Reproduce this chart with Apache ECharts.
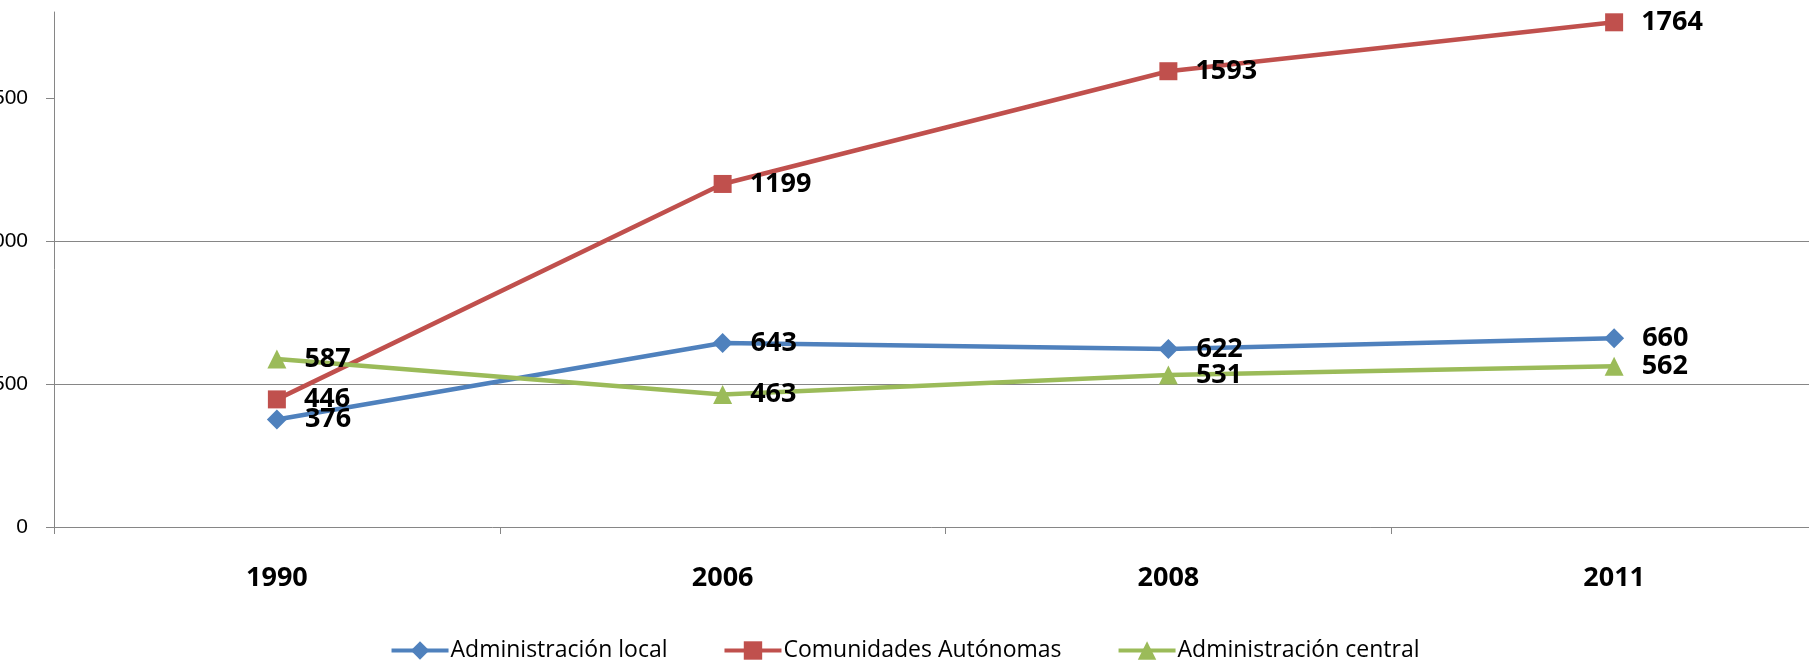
<!DOCTYPE html>
<html>
<head>
<meta charset="utf-8">
<script src="https://cdn.jsdelivr.net/npm/echarts@6/dist/echarts.min.js"></script>
<style>
html,body{margin:0;padding:0;background:#fff;}
#c{width:1809px;height:660px;}
</style>
</head>
<body>
<div id="c"></div>
<script>
const categories = ['1990', '2006', '2008', '2011'];
const adminLocal = [376, 643, 622, 660];
const comunidades = [446, 1199, 1593, 1764];
const adminCentral = [587, 463, 531, 562];
const yTicks = [0, 500, 1000, 1500];

const labelStyle = {
  show: true,
  position: 'right',
  distance: 18,
  color: '#000',
  fontFamily: 'Open Sans',
  fontWeight: 'bold',
  fontSize: 27
};

function mkSeries(name, data, color, symbol, size) {
  return {
    name: name,
    type: 'line',
    data: data,
    symbol: symbol,
    symbolSize: size,
    lineStyle: { color: color, width: 4.5 },
    itemStyle: { color: color },
    label: labelStyle,
    animation: false
  };
}

const chart = echarts.init(document.getElementById('c'));
chart.setOption({
  animation: false,
  backgroundColor: '#fff',
  grid: { left: 54, right: -28, top: 12, bottom: 133, containLabel: false, outerBoundsMode: 'none' },
  legend: {
    top: 634,
    left: 'center',
    itemWidth: 57,
    itemHeight: 23,
    itemGap: 55,
    lineStyle: { width: 4 },
    textStyle: { fontFamily: 'Open Sans', fontSize: 23, color: '#000', padding: [0, 0, 0, -3] },
    data: ['Administración local', 'Comunidades Autónomas', 'Administración central']
  },
  xAxis: {
    type: 'category',
    data: categories,
    axisLine: { lineStyle: { color: '#868686', width: 1 } },
    axisTick: { show: true, length: 7, lineStyle: { color: '#868686' } },
    axisLabel: { margin: 38, color: '#000', fontFamily: 'Open Sans', fontWeight: 'bold', fontSize: 27 }
  },
  yAxis: {
    type: 'value',
    min: 0,
    max: 1800,
    interval: 500,
    axisLine: { show: true, lineStyle: { color: '#868686', width: 1 } },
    axisTick: { show: true, length: 8, lineStyle: { color: '#868686' }, customValues: yTicks },
    axisLabel: { margin: 26, color: '#000', fontFamily: 'Liberation Sans', fontSize: 21, customValues: yTicks, formatter: function (v) { return String(v); } },
    splitLine: { show: true, showMinLine: false, showMaxLine: false, lineStyle: { color: '#868686', width: 1 } }
  },
  series: [
    mkSeries('Administración local', adminLocal, '#4F81BD', 'diamond', 20),
    mkSeries('Comunidades Autónomas', comunidades, '#C0504D', 'rect', 18),
    mkSeries('Administración central', adminCentral, '#9BBB59', 'triangle', 19)
  ]
});
</script>
</body>
</html>
